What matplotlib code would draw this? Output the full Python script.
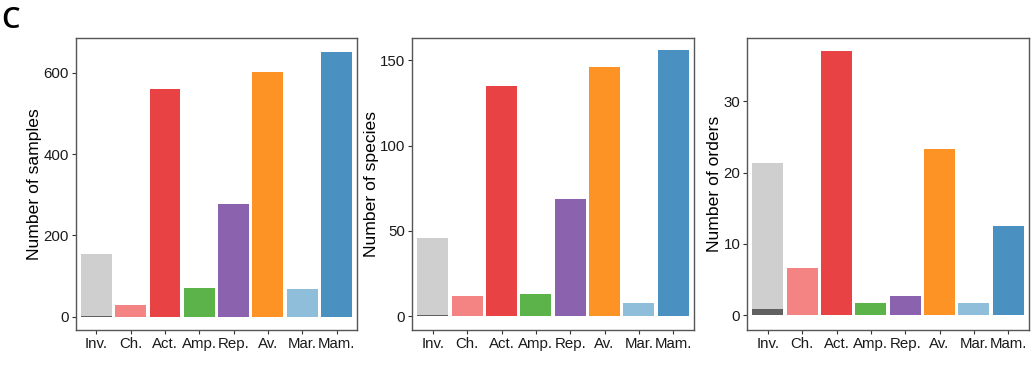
import matplotlib
matplotlib.use("Agg")
import matplotlib.pyplot as plt

categories = ["Inv.", "Ch.", "Act.", "Amp.", "Rep.", "Av.", "Mar.", "Mam."]
colors = ["#CFCFCF", "#F48483", "#E94244", "#5BB34A", "#8A62AE", "#FE9325", "#8FBEDB", "#4A91C2"]
inv_dark_color = "#616161"

samples = [155, 29, 561, 71, 278, 603, 68, 652]
samples_inv_sub = 2
species = [46, 12, 135, 13, 69, 146, 8, 156]
species_inv_sub = 1
orders = [21.3, 6.6, 37.1, 1.7, 2.7, 23.3, 1.7, 12.5]
orders_inv_sub = 0.8

panels = [
    (samples, samples_inv_sub, "Number of samples", [0, 200, 400, 600], (-33, 686)),
    (species, species_inv_sub, "Number of species", [0, 50, 100, 150], (-8, 163)),
    (orders, orders_inv_sub, "Number of orders", [0, 10, 20, 30], (-2.1, 38.9)),
]

plt.rcParams['font.family'] = ['Liberation Sans', 'DejaVu Sans']
W, H = 1034, 366
fig = plt.figure(figsize=(W / 100, H / 100), dpi=100)

lefts = [75.7, 412.3, 747.3]
for (vals, sub, ylabel, yt, ylim), lx in zip(panels, lefts):
    ax = fig.add_axes([lx / W, 1 - 330 / H, 281.5 / W, (330 - 38) / H])
    x = list(range(1, len(categories) + 1))
    ax.bar(x, vals, width=0.9, color=colors, linewidth=0)
    ax.bar([1], [sub], width=0.9, color=inv_dark_color, linewidth=0)
    ax.set_xlim(0.4, 8.6)
    ax.set_ylim(*ylim)
    ax.set_yticks(yt)
    ax.set_xticks(x)
    ax.set_xticklabels(categories)
    ax.set_ylabel(ylabel, fontsize=12.6, color="black", labelpad=1)
    ax.tick_params(axis="both", direction="out", length=3, width=0.8,
                   color="#333333", labelsize=10.8, labelcolor="#1a1a1a", pad=2)
    for s in ax.spines.values():
        s.set_color("#555555")
        s.set_linewidth(1.0)

fig.text(1 / W, 1 - 28 / H, "C", fontsize=21, fontweight="semibold",
         family=["Open Sans", "DejaVu Sans"], ha="left", va="baseline")

fig.savefig("out.png", dpi=100)
